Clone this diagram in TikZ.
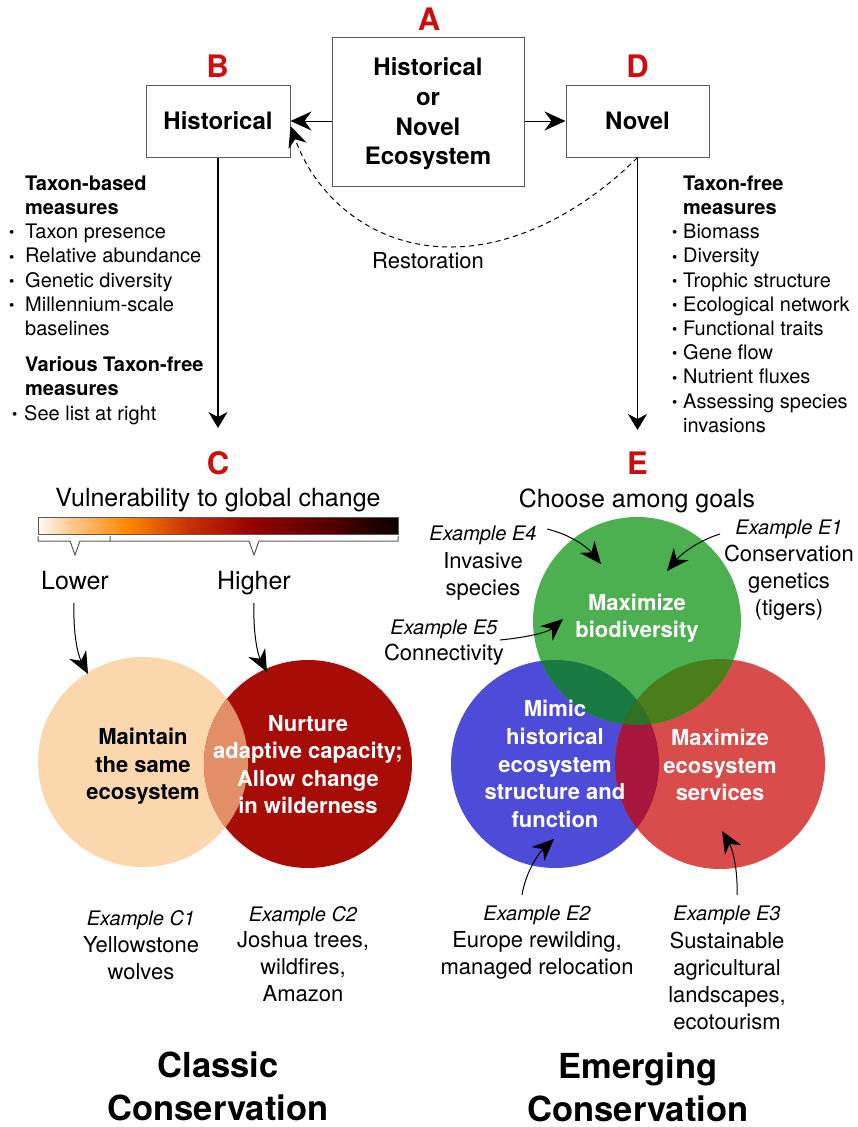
\documentclass[tikz,border=0pt]{standalone}
\usepackage{fontspec}
\setmainfont{TeX Gyre Heros}
\usetikzlibrary{arrows.meta}
\definecolor{labred}{RGB}{204,14,14}
\definecolor{boxgray}{RGB}{90,90,90}
\definecolor{peach}{RGB}{251,215,174}
\definecolor{redC}{RGB}{168,12,6}
\definecolor{ovC}{RGB}{226,142,102}
\definecolor{greenE}{RGB}{76,176,80}
\definecolor{blueE}{RGB}{76,76,216}
\definecolor{redE}{RGB}{216,76,76}
\definecolor{gb}{RGB}{24,122,64}
\definecolor{gr}{RGB}{74,126,26}
\definecolor{br}{RGB}{168,22,62}
\definecolor{gbr}{RGB}{48,112,36}
\definecolor{barw}{RGB}{255,250,245}
\definecolor{barp}{RGB}{253,205,150}
\definecolor{baro}{RGB}{255,136,0}
\definecolor{barr}{RGB}{200,50,0}
\definecolor{bard}{RGB}{150,0,0}
\definecolor{barm}{RGB}{80,0,0}
\definecolor{bark}{RGB}{8,0,0}
\pgfdeclarehorizontalshading{vuln}{100bp}{color(0bp)=(barw); color(25bp)=(barw); color(29.17bp)=(barp); color(37.36bp)=(baro); color(45.83bp)=(barr); color(54.86bp)=(bard); color(65.97bp)=(barm); color(75bp)=(bark); color(100bp)=(bark)}
\newcommand\mybul[1]{\makebox[#1][l]{\raisebox{0.8pt}{\fontsize{15}{15}\selectfont •}}}
\begin{document}
\begin{tikzpicture}[x=1pt,y=-1pt,
  lbl/.style={text=labred, font=\fontsize{31}{31}\selectfont\bfseries, anchor=base, inner sep=0pt},
  boxnode/.style={draw=boxgray, line width=1pt, font=\fontsize{24}{29.7}\selectfont\bfseries, align=center, inner sep=0pt},
  bodytxt/.style={font=\fontsize{20}{24.2}\selectfont, inner sep=0pt, align=left, anchor=north west},
  circtxt/.style={font=\fontsize{22}{27.5}\selectfont\bfseries, align=center, inner sep=0pt, anchor=north},
  extxt/.style={font=\fontsize{22}{27}\selectfont, align=center, inner sep=0pt, anchor=north},
  bigtxt/.style={font=\fontsize{25}{30}\selectfont, anchor=base, inner sep=0pt},
  titletxt/.style={font=\fontsize{34.5}{43}\selectfont\bfseries, align=center, inner sep=0pt},
  arrbox/.style={line width=1pt, -{Stealth[length=21pt,width=19pt,inset=7pt]}},
  dasharr/.style={line width=1pt, dash pattern=on 5pt off 4pt, -{Stealth[length=21pt,width=19pt,inset=7pt]}},
  arrv/.style={line width=1.1pt, -{Stealth[length=16pt,width=19pt,inset=5pt]}},
  exarr/.style={line width=1pt, -{Stealth[length=22pt,width=19pt,inset=7pt]}}
]
\useasboundingbox (0,0) rectangle (857,1127);
\fill[white] (0,0) rectangle (857,1127);

% ---- top boxes ----
\node[lbl] (labA) at (429,30) {A};
\node[lbl] (labB) at (217.5,77) {B};
\node[lbl] (labD) at (637.5,77) {D};
\node[boxnode, minimum width=192pt, minimum height=149pt, text depth=0pt] (A) at (428,111.5) {Historical\\or\\Novel\\Ecosystem};
\node[boxnode, minimum width=144pt, minimum height=72pt] (B) at (218,121) {Historical};
\node[boxnode, minimum width=143pt, minimum height=72pt] (D) at (637.5,121) {Novel};
\draw[arrbox] (B.east -| A.west) -- (B.east);
\draw[arrbox] (D.west -| A.east) -- (D.west);
\draw[dasharr] (D.south) .. controls (595,200) and (525,248) .. (448,247) .. controls (370,246) and (315,195) .. ([yshift=-5pt]B.east);
\node[font=\fontsize{22}{26}\selectfont, anchor=base, inner sep=0pt] (rest) at (428,268) {Restoration};

% ---- vertical arrows ----
\coordinate (Ctip) at (218,428);
\coordinate (Etip) at (637.5,430);
\draw[arrv] (B.south) -- (Ctip);
\draw[arrv] (D.south) -- (Etip);

% ---- lists ----
\node[bodytxt] (leftlist) at (9,175.6) {\hspace*{16pt}\textbf{Taxon-based}\\
\hspace*{16pt}\textbf{measures}\\
\mybul{16pt}Taxon presence\\
\mybul{16pt}Relative abundance\\
\mybul{16pt}Genetic diversity\\
\mybul{16pt}Millennium-scale\\
\hspace*{16pt}baselines\\[12pt]
\hspace*{16pt}\textbf{Various Taxon-free}\\
\hspace*{16pt}\textbf{measures}\\
\hspace*{3pt}\mybul{12pt}See list at right};
\node[bodytxt] (rightlist) at (672,175.6) {\hspace*{11pt}\textbf{Taxon-free}\\
\hspace*{11pt}\textbf{measures}\\
\mybul{11pt}Biomass\\
\mybul{11pt}Diversity\\
\mybul{11pt}Trophic structure\\
\mybul{11pt}Ecological network\\
\mybul{11pt}Functional traits\\
\mybul{11pt}Gene flow\\
\mybul{11pt}Nutrient fluxes\\
\mybul{11pt}Assessing species\\
\hspace*{11pt}invasions};

% ---- C part ----
\node[lbl] (labC) at (218,474) {C};
\node[bigtxt] (vuln) at (218,506) {Vulnerability to global change};
\shade[shading=vuln] (38,517) rectangle (398,534);
\draw[boxgray, line width=0.6pt] (38,517) rectangle (398,534);
\draw[boxgray, line width=1pt] (38,536) -- (38,541) -- (70,541) -- (75,555) -- (80,541) -- (110,541) -- (110,536)
  (110,541) -- (249,541) -- (254,555) -- (259,541) -- (398,541) -- (398,536);
\node[bigtxt] (lower) at (75,589) {Lower};
\node[bigtxt] (higher) at (254,589) {Higher};

\fill[peach] (143,762) circle (105);
\fill[redC] (308,764) circle (104);
\begin{scope}
  \clip (143,762) circle (105);
  \fill[ovC] (308,764) circle (104);
\end{scope}
\coordinate (lows) at (74,603);
\coordinate (lowt) at (88,674);
\coordinate (highs) at (254,603);
\coordinate (hight) at (267,672);
\draw[exarr] (lows) .. controls (73,635) and (78,655) .. (lowt);
\draw[exarr] (highs) .. controls (253,635) and (258,655) .. (hight);
\node[circtxt] (maint) at (143,728) {Maintain\\the same\\ecosystem};
\node[circtxt, text=white] (nurt) at (308,715) {Nurture\\adaptive capacity;\\Allow change\\in wilderness};

\node[extxt] (exC1) at (141,910) {{\fontsize{20}{27}\selectfont\itshape Example C1}\\Yellowstone\\wolves};
\node[extxt, font=\fontsize{22}{26.7}\selectfont] (exC2) at (303,906) {{\fontsize{20}{26.7}\selectfont\itshape Example C2}\\Joshua trees,\\wildfires,\\Amazon};

% ---- E part ----
\node[lbl] (labE) at (637.5,474) {E};
\node[bigtxt] (choose) at (637,507) {Choose among goals};

\fill[blueE] (555,764) circle (104);
\fill[redE] (720,764) circle (105);
\fill[greenE] (637,621) circle (104);
\begin{scope}
  \clip (637,621) circle (104);
  \fill[gb] (555,764) circle (104);
\end{scope}
\begin{scope}
  \clip (637,621) circle (104);
  \fill[gr] (720,764) circle (105);
\end{scope}
\begin{scope}
  \clip (555,764) circle (104);
  \fill[br] (720,764) circle (105);
\end{scope}
\begin{scope}
  \clip (637,621) circle (104);
  \clip (555,764) circle (104);
  \fill[gbr] (720,764) circle (105);
\end{scope}

\node[circtxt, text=white, font=\fontsize{22}{26.5}\selectfont\bfseries] (maxbio) at (637,594) {Maximize\\biodiversity};
\node[circtxt, text=white, font=\fontsize{22}{27.75}\selectfont\bfseries] (mimic) at (555,700) {Mimic\\historical\\ecosystem\\structure and\\function};
\node[circtxt, text=white] (maxeco) at (720,729) {Maximize\\ecosystem\\services};

\node[extxt, font=\fontsize{22}{27.5}\selectfont] (exE4) at (483,526) {{\fontsize{20}{27.5}\selectfont\itshape Example E4}\\Invasive\\species};
\node[extxt] (exE1) at (789,520) {{\fontsize{20}{27}\selectfont\itshape Example E1}\\Conservation\\genetics\\(tigers)};
\node[extxt, font=\fontsize{22}{26}\selectfont] (exE5) at (444,620) {{\fontsize{20}{26}\selectfont\itshape Example E5}\\Connectivity};
\node[extxt] (exE2) at (537,906) {{\fontsize{20}{27}\selectfont\itshape Example E2}\\Europe rewilding,\\managed relocation};
\node[extxt, font=\fontsize{22}{27.25}\selectfont] (exE3) at (727,906) {{\fontsize{20}{27.25}\selectfont\itshape Example E3}\\Sustainable\\agricultural\\landscapes,\\ecotourism};

\coordinate (e4s) at (547,529);
\coordinate (e4t) at (601,564);
\coordinate (e1s) at (720,534);
\coordinate (e1t) at (667,571);
\coordinate (e5s) at (500,640);
\coordinate (e5t) at (563,619);
\coordinate (e2s) at (522,895);
\coordinate (e2t) at (554,839);
\coordinate (e3s) at (737,895);
\coordinate (e3t) at (722,831);
\draw[exarr] (e4s) .. controls (572,535) and (588,548) .. (e4t);
\draw[exarr] (e1s) .. controls (700,540) and (682,553) .. (e1t);
\draw[exarr] (e5s) .. controls (530,637) and (548,632) .. (e5t);
\draw[exarr] (e2s) .. controls (526,870) and (540,852) .. (e2t);
\draw[exarr] (e3s) .. controls (738,868) and (732,848) .. (e3t);

% ---- titles ----
\node[titletxt] (classic) at (218,1086) {Classic\\Conservation};
\node[titletxt] (emerg) at (638,1087) {Emerging\\Conservation};
\end{tikzpicture}
\end{document}
